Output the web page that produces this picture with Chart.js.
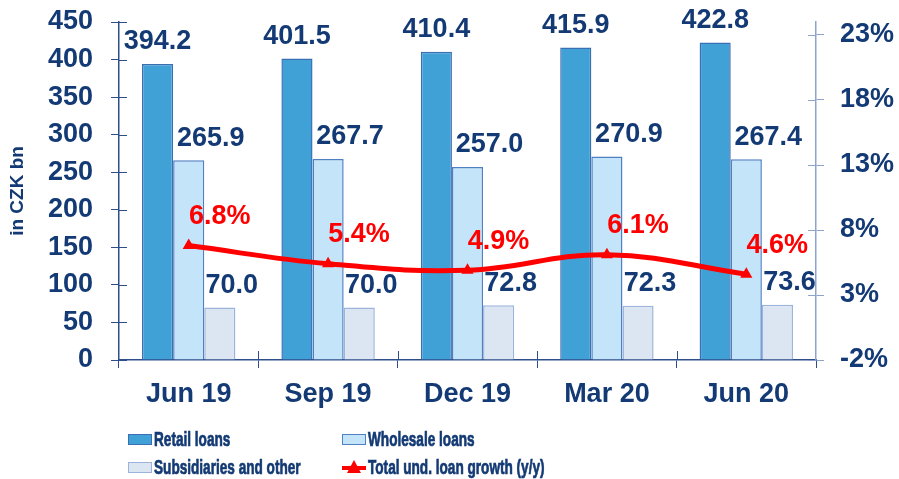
<!DOCTYPE html>
<html>
<head>
<meta charset="utf-8">
<script src="https://cdn.jsdelivr.net/npm/chart.js@4"></script>
<style>
  body { margin: 0; background: #fff; }
</style>
</head>
<body>
<canvas id="loans" width="899" height="479"></canvas>
<script>
const quarters = ['Jun 19', 'Sep 19', 'Dec 19', 'Mar 20', 'Jun 20']
const retail = [394.2, 401.5, 410.4, 415.9, 422.8]
const wholesale = [265.9, 267.7, 257.0, 270.9, 267.4]
const subsidiaries = [70.0, 70.0, 72.8, 72.3, 73.6]
const growth = [6.8, 5.4, 4.9, 6.1, 4.6]
const growthTicks = [-2, 3, 8, 13, 18, 23]

const navy = '#133a74'
const font = 'Liberation Sans, Arial, sans-serif'

// value labels above the bars and the growth points
const valueLabels = {
  id: 'valueLabels',
  afterDatasetsDraw(chart) {
    const ctx = chart.ctx
    ctx.save()
    ctx.font = 'bold 27px ' + font
    ctx.textAlign = 'center'
    ctx.textBaseline = 'middle'
    const shift = [0, 22, 12]
    chart.data.datasets.forEach((ds, di) => {
      const meta = chart.getDatasetMeta(di)
      meta.data.forEach((el, i) => {
        if (ds.type === 'line') {
          ctx.fillStyle = '#ff0000'
          ctx.fillText(ds.data[i].toFixed(1) + '%', el.x + 31, el.y - 29)
        } else {
          ctx.fillStyle = navy
          ctx.fillText(ds.data[i].toFixed(1), el.x + shift[di], el.y - 22)
        }
      })
    })
    ctx.restore()
  }
}

// tick marks that cross the axis lines
const crossTicks = {
  id: 'crossTicks',
  afterDraw(chart) {
    const ctx = chart.ctx
    const y = chart.scales.y, y2 = chart.scales.y2, x = chart.scales.x
    ctx.save()
    ctx.lineWidth = 1
    ctx.strokeStyle = '#2e4e8a'
    y.ticks.forEach((t, i) => {
      const p = Math.round(y.getPixelForTick(i)) + 0.5
      ctx.beginPath(); ctx.moveTo(y.right, p); ctx.lineTo(y.right + 8, p); ctx.stroke()
    })
    const step = (x.right - x.left) / quarters.length
    for (let i = 1; i < quarters.length; i++) {
      const p = Math.round(x.left + step * i) + 0.5
      ctx.beginPath(); ctx.moveTo(p, x.top); ctx.lineTo(p, x.top - 9); ctx.stroke()
    }
    ctx.strokeStyle = '#8ea3cc'
    y2.ticks.forEach((t, i) => {
      const p = Math.round(y2.getPixelForTick(i)) + 0.5
      ctx.beginPath(); ctx.moveTo(y2.left - 8, p); ctx.lineTo(y2.left, p); ctx.stroke()
    })
    ctx.restore()
  }
}

// two-column legend under the chart
const boxLegend = {
  id: 'boxLegend',
  afterDraw(chart) {
    const ctx = chart.ctx
    const spots = [[128, 440], [342, 440], [128, 468], [342, 468]]
    ctx.save()
    ctx.font = 'bold 20px ' + font
    ctx.textBaseline = 'middle'
    chart.data.datasets.forEach((ds, i) => {
      const [lx, ly] = spots[i]
      if (ds.type === 'line') {
        ctx.strokeStyle = ds.borderColor
        ctx.lineWidth = 4
        ctx.beginPath(); ctx.moveTo(lx, ly); ctx.lineTo(lx + 24, ly); ctx.stroke()
        ctx.fillStyle = ds.borderColor
        ctx.beginPath()
        ctx.moveTo(lx + 12, ly - 8); ctx.lineTo(lx + 19, ly + 5); ctx.lineTo(lx + 5, ly + 5)
        ctx.closePath(); ctx.fill()
      } else {
        ctx.fillStyle = ds.backgroundColor
        ctx.fillRect(lx, ly - 6, 24, 11)
        ctx.strokeStyle = ds.borderColor
        ctx.lineWidth = 1
        ctx.strokeRect(lx + 0.5, ly - 5.5, 23, 10)
      }
      // condensed text, like a narrow face
      ctx.save()
      ctx.translate(lx + 26, ly)
      ctx.scale(0.68, 1)
      ctx.fillStyle = navy
      ctx.strokeStyle = navy
      ctx.lineWidth = 0.7
      ctx.fillText(ds.label, 0, 0)
      ctx.strokeText(ds.label, 0, 0)
      ctx.restore()
    })
    ctx.restore()
  }
}

const noEdgePad = s => { s.paddingTop = 0; s.paddingBottom = 0 }

new Chart(document.getElementById('loans'), {
  type: 'bar',
  data: {
    labels: quarters,
    datasets: [
      {
        label: 'Retail loans', data: retail, order: 1, yAxisID: 'y',
        backgroundColor: '#40a1d6', borderColor: '#3b6fb4', borderWidth: 1.5,
        barPercentage: 1, categoryPercentage: 0.67
      },
      {
        label: 'Wholesale loans', data: wholesale, order: 1, yAxisID: 'y',
        backgroundColor: '#c4e4f9', borderColor: '#4f80c2', borderWidth: 1.5,
        barPercentage: 1, categoryPercentage: 0.67
      },
      {
        label: 'Subsidiaries and other', data: subsidiaries, order: 1, yAxisID: 'y',
        backgroundColor: '#dce6f2', borderColor: '#9cb4dc', borderWidth: 1.5,
        barPercentage: 1, categoryPercentage: 0.67
      },
      {
        type: 'line', label: 'Total und. loan growth (y/y)', data: growth, order: 0, yAxisID: 'y2',
        borderColor: '#ff0000', backgroundColor: '#ff0000', borderWidth: 5, tension: 0.4,
        pointStyle: 'triangle', pointRadius: 7, pointBorderWidth: 0
      }
    ]
  },
  options: {
    responsive: false,
    animation: false,
    layout: { padding: { top: 22, bottom: 59, left: 0, right: 0 } },
    plugins: { legend: { display: false }, tooltip: { enabled: false } },
    scales: {
      x: {
        offset: true,
        grid: { offset: true, drawOnChartArea: false, tickLength: 8, color: '#2e4e8a' },
        border: { color: '#2e4e8a', width: 1.5 },
        ticks: { color: navy, font: { family: font, size: 27, weight: 'bold' }, padding: 10 },
        afterFit(s) { s.height = 60 }
      },
      y: {
        position: 'left', min: 0, max: 450,
        grid: { drawOnChartArea: false, tickLength: 8, color: '#2e4e8a' },
        border: { color: '#2e4e8a', width: 1.5 },
        ticks: { stepSize: 50, color: navy, font: { family: font, size: 27, weight: 'bold' }, padding: 18 },
        title: { display: true, text: 'in CZK bn', color: navy, font: { family: font, size: 19, weight: 'bold' }, padding: 6 },
        afterFit(s) { s.width = 119; noEdgePad(s) }
      },
      y2: {
        position: 'right', min: -2, max: 24,
        grid: { drawOnChartArea: false, tickLength: 8, color: '#8ea3cc' },
        border: { color: '#8ea3cc', width: 1.5 },
        afterBuildTicks(s) { s.ticks = growthTicks.map(v => ({ value: v })) },
        ticks: { color: navy, font: { family: font, size: 27, weight: 'bold' }, padding: 16, callback: v => v + '%' },
        afterFit(s) { s.width = 83; noEdgePad(s) }
      }
    }
  },
  plugins: [valueLabels, crossTicks, boxLegend]
})
</script>
</body>
</html>
